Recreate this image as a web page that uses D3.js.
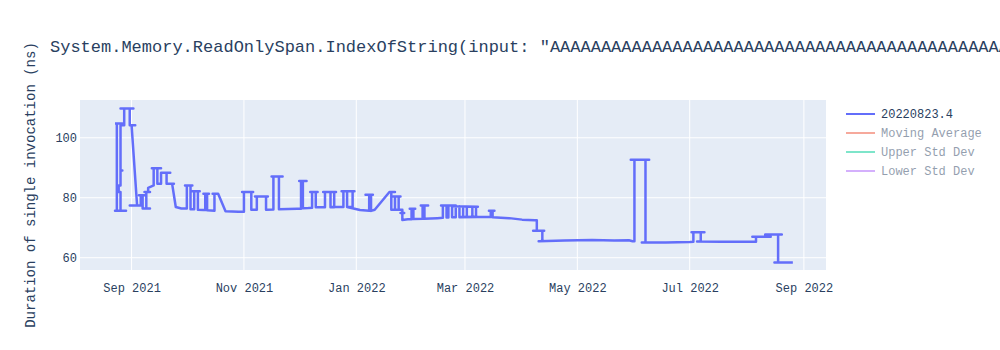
<!DOCTYPE html>
<html>
<head>
<meta charset="utf-8">
<script src="https://cdn.jsdelivr.net/npm/d3@7"></script>
<style>
    body { margin: 0; background: #fff; }
    text { font-family: "Liberation Mono", "Courier New", monospace; }
</style>
</head>
<body>
<div id="chart"></div>
<script>
/* global d3 */

var chartTitle = 'System.Memory.ReadOnlySpan.IndexOfString(input: "AAAAAAAAAAAAAAAAAAAAAAAAAAAAAAAAAAAAAAAAAAAAAAAAAAAAAAAAAAAAAAAAAAAAAAAA", value: "x")';
var yTitle = "Duration of single invocation (ns)";
var legendNames = ["20220823.4", "Moving Average", "Upper Std Dev", "Lower Std Dev"];
var xDomain = ["2021-08-04", "2022-09-13"];
var yDomain = [55.9, 112.6];
var yTicks = [60, 80, 100];

// run order as recorded, so dates go back and forth
var runDates = [
    "2021-08-23", "2021-08-27", "2021-08-24", "2021-08-24", "2021-08-23", "2021-08-29", "2021-08-26", "2021-08-26",
    "2021-08-25", "2021-08-25", "2021-08-26", "2021-08-26", "2021-08-27", "2021-08-26", "2021-08-26", "2021-08-28",
    "2021-08-28", "2021-08-26", "2021-09-02", "2021-08-31", "2021-08-31", "2021-09-03", "2021-09-01", "2021-09-04",
    "2021-08-31", "2021-09-07", "2021-09-06", "2021-09-06", "2021-09-05", "2021-09-08", "2021-09-07", "2021-09-07",
    "2021-09-11", "2021-09-09", "2021-09-09", "2021-09-08", "2021-09-11", "2021-09-10", "2021-09-10", "2021-09-13",
    "2021-09-13", "2021-09-12", "2021-09-17", "2021-09-15", "2021-09-15", "2021-09-17", "2021-09-17", "2021-09-22",
    "2021-09-20", "2021-09-20", "2021-09-24", "2021-09-23", "2021-09-25", "2021-09-28",
    "2021-10-01", "2021-10-01", "2021-09-30", "2021-10-04", "2021-10-03", "2021-10-03",
    "2021-10-05", "2021-10-05", "2021-10-04", "2021-10-08", "2021-10-07", "2021-10-07", "2021-10-10",
    "2021-10-11", "2021-10-11", "2021-10-10", "2021-10-13", "2021-10-12", "2021-10-12",
    "2021-10-16", "2021-10-16", "2021-10-15", "2021-10-18", "2021-10-22", "2021-10-29",
    "2021-11-01", "2021-11-01", "2021-10-31", "2021-11-06", "2021-11-05", "2021-11-05",
    "2021-11-08", "2021-11-08", "2021-11-07", "2021-11-14", "2021-11-13", "2021-11-13",
    "2021-11-17", "2021-11-17", "2021-11-16", "2021-11-22", "2021-11-20", "2021-11-20", "2021-11-30",
    "2021-12-02", "2021-12-02", "2021-12-01", "2021-12-05", "2021-12-03", "2021-12-03", "2021-12-06",
    "2021-12-08", "2021-12-08", "2021-12-07", "2021-12-11", "2021-12-10", "2021-12-10",
    "2021-12-15", "2021-12-15", "2021-12-14", "2021-12-21", "2021-12-20", "2021-12-20", "2021-12-18", "2021-12-18", "2021-12-18",
    "2021-12-25", "2021-12-25", "2021-12-24", "2021-12-31", "2021-12-30", "2021-12-30", "2021-12-27", "2021-12-27", "2021-12-27",
    "2022-01-03", "2022-01-08", "2022-01-08", "2022-01-06", "2022-01-10", "2022-01-09", "2022-01-09",
    "2022-01-11", "2022-01-19", "2022-01-22", "2022-01-20", "2022-01-20", "2022-01-23", "2022-01-22", "2022-01-22",
    "2022-01-21", "2022-01-25", "2022-01-24", "2022-01-24", "2022-01-26", "2022-01-26", "2022-01-25", "2022-01-27",
    "2022-01-26", "2022-01-26", "2022-01-29",
    "2022-01-31", "2022-01-31", "2022-01-30", "2022-02-02", "2022-02-01", "2022-02-01",
    "2022-02-06", "2022-02-06", "2022-02-05", "2022-02-09", "2022-02-07", "2022-02-07", "2022-02-14",
    "2022-02-17", "2022-02-17", "2022-02-16", "2022-02-24", "2022-02-19", "2022-02-19", "2022-02-20", "2022-02-20",
    "2022-02-22", "2022-02-22", "2022-02-24", "2022-02-24", "2022-02-23", "2022-03-08", "2022-03-07", "2022-03-07",
    "2022-03-05", "2022-03-05", "2022-03-05", "2022-03-02", "2022-03-02", "2022-03-02", "2022-02-28", "2022-02-28",
    "2022-02-28", "2022-02-26", "2022-02-26", "2022-02-26", "2022-03-08", "2022-03-13",
    "2022-03-15", "2022-03-15", "2022-03-14", "2022-03-17", "2022-03-16", "2022-03-16",
    "2022-03-25", "2022-04-01", "2022-04-08", "2022-04-09", "2022-04-09", "2022-04-07", "2022-04-13", "2022-04-12",
    "2022-04-12", "2022-04-10", "2022-04-24", "2022-05-09", "2022-05-21", "2022-05-29", "2022-05-31",
    "2022-06-01", "2022-06-01", "2022-05-30", "2022-06-09", "2022-06-07", "2022-06-07", "2022-06-05", "2022-06-18", "2022-07-01",
    "2022-07-03", "2022-07-03", "2022-07-02", "2022-07-09", "2022-07-07", "2022-07-07", "2022-07-05", "2022-07-18",
    "2022-08-06", "2022-08-06", "2022-08-04", "2022-08-14", "2022-08-11", "2022-08-11", "2022-08-20", "2022-08-18",
    "2022-08-18", "2022-08-16", "2022-08-26"
];

var durations = [
    104.8, 104.8, 104.8, 75.7, 75.7, 75.7, 75.7, 81.9,
    81.9, 84.1, 84.1, 89.1, 89.1, 89.1, 104.2, 104.2,
    109.8, 109.8, 109.8, 109.8, 104.2, 104.2, 104.2, 77.4,
    77.4, 77.4, 77.4, 80.8, 80.8, 80.8, 80.8, 76.4,
    76.4, 76.4, 81.9, 81.9, 81.9, 81.9, 83.3, 84.1,
    89.8, 89.8, 89.8, 89.8, 84.7, 84.7, 88.3, 88.3,
    88.3, 84.7, 84.7, 84.7, 76.9, 76.4,
    76.4, 84.1, 84.1, 84.1, 84.1, 76.2,
    76.2, 82.2, 82.2, 82.2, 82.2, 76.0, 75.9,
    75.9, 81.3, 81.3, 81.3, 81.3, 75.8,
    75.7, 81.3, 81.3, 81.3, 75.5, 75.3,
    75.3, 81.9, 81.9, 81.9, 81.9, 76.0,
    76.0, 80.4, 80.4, 80.4, 80.4, 76.0,
    76.1, 87.1, 87.1, 87.1, 87.1, 76.2, 76.3,
    76.3, 85.6, 85.6, 85.6, 85.6, 76.5, 76.6,
    76.7, 81.9, 81.9, 81.9, 81.9, 76.8,
    76.8, 81.9, 81.9, 81.9, 81.9, 76.8, 76.8, 81.9, 76.9,
    76.9, 82.2, 82.2, 82.2, 82.2, 76.9, 76.9, 82.2, 76.9,
    75.9, 75.7, 81.0, 81.0, 81.0, 81.0, 75.6,
    76.0, 81.9, 81.9, 81.9, 76.0, 76.0, 76.0, 80.4,
    80.4, 80.4, 80.4, 76.0, 76.0, 74.9, 74.9, 74.9,
    74.9, 72.6, 72.8,
    72.8, 76.3, 76.3, 76.3, 76.3, 72.9,
    73.0, 77.4, 77.4, 77.4, 77.4, 73.0, 73.2,
    73.3, 77.4, 77.4, 77.4, 77.4, 73.4, 73.4, 77.4,
    77.4, 73.5, 73.5, 77.2, 77.2, 77.0, 77.0, 73.6,
    73.6, 77.0, 73.6, 73.6, 77.0, 73.6, 73.6, 77.1,
    73.6, 73.6, 77.2, 73.5, 73.6, 73.6,
    73.6, 75.7, 75.7, 75.7, 75.7, 73.5,
    73.2, 72.7, 72.5, 72.5, 69.0, 69.0, 69.0, 69.0,
    65.5, 65.5, 65.7, 65.9, 65.7, 65.8, 65.5,
    65.5, 92.7, 92.7, 92.7, 92.7, 65.1, 65.1, 65.1, 65.2,
    65.3, 68.5, 68.5, 68.5, 68.5, 65.4, 65.4, 65.3,
    65.3, 67.0, 67.0, 67.0, 67.0, 67.7, 67.7, 67.7,
    58.4, 58.4, 58.4
];

function drawChart(wrappingDivId) {
    var width = 1000,
            height = 350;
    var margin = {top: 100, right: 174, bottom: 80, left: 80};
    var plotW = width - margin.left - margin.right,
            plotH = height - margin.top - margin.bottom;

    var parseDay = d3.utcParse("%Y-%m-%d");

    var points = runDates.map(function (d, i) {
        return {date: parseDay(d), value: durations[i]};
    });

    var x = d3.scaleUtc()
            .domain(xDomain.map(parseDay))
            .range([0, plotW]);

    var y = d3.scaleLinear()
            .domain(yDomain)
            .range([plotH, 0]);

    var svg = d3.select(wrappingDivId)
            .append("svg")
            .attr("width", width)
            .attr("height", height);

    svg.append("rect")
            .attr("width", width)
            .attr("height", height)
            .attr("fill", "#fff");

    svg.append("defs")
            .append("clipPath")
            .attr("id", "plot-clip")
            .append("rect")
            .attr("width", plotW)
            .attr("height", plotH);

    var canvas = svg.append("g")
            .attr("transform", "translate(" + margin.left + "," + margin.top + ")");

    canvas.append("rect")
            .attr("width", plotW)
            .attr("height", plotH)
            .attr("fill", "#e5ecf6");

    var xTicks = x.ticks(d3.utcMonth.every(2));

    // grid
    canvas.append("g")
            .selectAll("line")
            .data(xTicks)
            .enter()
            .append("line")
            .attr("x1", function (d) { return x(d); })
            .attr("x2", function (d) { return x(d); })
            .attr("y1", 0)
            .attr("y2", plotH)
            .style("stroke", "#fff")
            .style("stroke-width", "1px");

    canvas.append("g")
            .selectAll("line")
            .data(yTicks)
            .enter()
            .append("line")
            .attr("x1", 0)
            .attr("x2", plotW)
            .attr("y1", function (d) { return y(d); })
            .attr("y2", function (d) { return y(d); })
            .style("stroke", "#fff")
            .style("stroke-width", "1px");

    var xAxis = canvas.append("g")
            .attr("transform", "translate(0," + plotH + ")")
            .call(d3.axisBottom(x)
                    .tickValues(xTicks)
                    .tickFormat(d3.utcFormat("%b %Y"))
                    .tickSize(0)
                    .tickPadding(13));

    var yAxis = canvas.append("g")
            .call(d3.axisLeft(y)
                    .tickValues(yTicks)
                    .tickSize(0)
                    .tickPadding(3));

    [xAxis, yAxis].forEach(function (ax) {
        ax.select(".domain").remove();
        ax.selectAll("text")
                .attr("fill", "#2a3f5f")
                .style("font-size", "12px")
                .style("font-family", "'Liberation Mono', monospace");
    });

    var line = d3.line()
            .x(function (d) { return x(d.date); })
            .y(function (d) { return y(d.value); });

    canvas.append("path")
            .datum(points)
            .attr("clip-path", "url(#plot-clip)")
            .attr("d", line)
            .attr("fill", "none")
            .attr("stroke", "#636efa")
            .attr("stroke-width", 2.5)
            .attr("stroke-linejoin", "round");

    svg.append("text")
            .attr("x", 50)
            .attr("y", 52)
            .attr("fill", "#2a3f5f")
            .style("font-size", "17px")
            .style("white-space", "pre")
            .text(chartTitle);

    svg.append("text")
            .attr("transform", "translate(35," + (margin.top + plotH / 2) + ") rotate(-90)")
            .attr("text-anchor", "middle")
            .attr("fill", "#2a3f5f")
            .style("font-size", "14px")
            .text(yTitle);

    // legend, only the first trace is visible
    var legendColors = ["#636efa", "#EF553B", "#00cc96", "#ab63fa"];
    var legend = svg.append("g")
            .attr("transform", "translate(846,114)");

    var items = legend.selectAll(".legend-item")
            .data(legendNames)
            .enter()
            .append("g")
            .attr("class", "legend-item")
            .attr("transform", function (d, i) { return "translate(0," + i * 19 + ")"; })
            .style("opacity", function (d, i) { return i === 0 ? 1 : 0.5; });

    items.append("line")
            .attr("x1", 0)
            .attr("x2", 29)
            .attr("stroke", function (d, i) { return legendColors[i]; })
            .attr("stroke-width", 2);

    items.append("text")
            .attr("x", 35)
            .attr("y", 4)
            .attr("fill", "#2a3f5f")
            .style("font-size", "12px")
            .text(function (d) { return d; });
}

drawChart("#chart");
</script>
</body>
</html>
